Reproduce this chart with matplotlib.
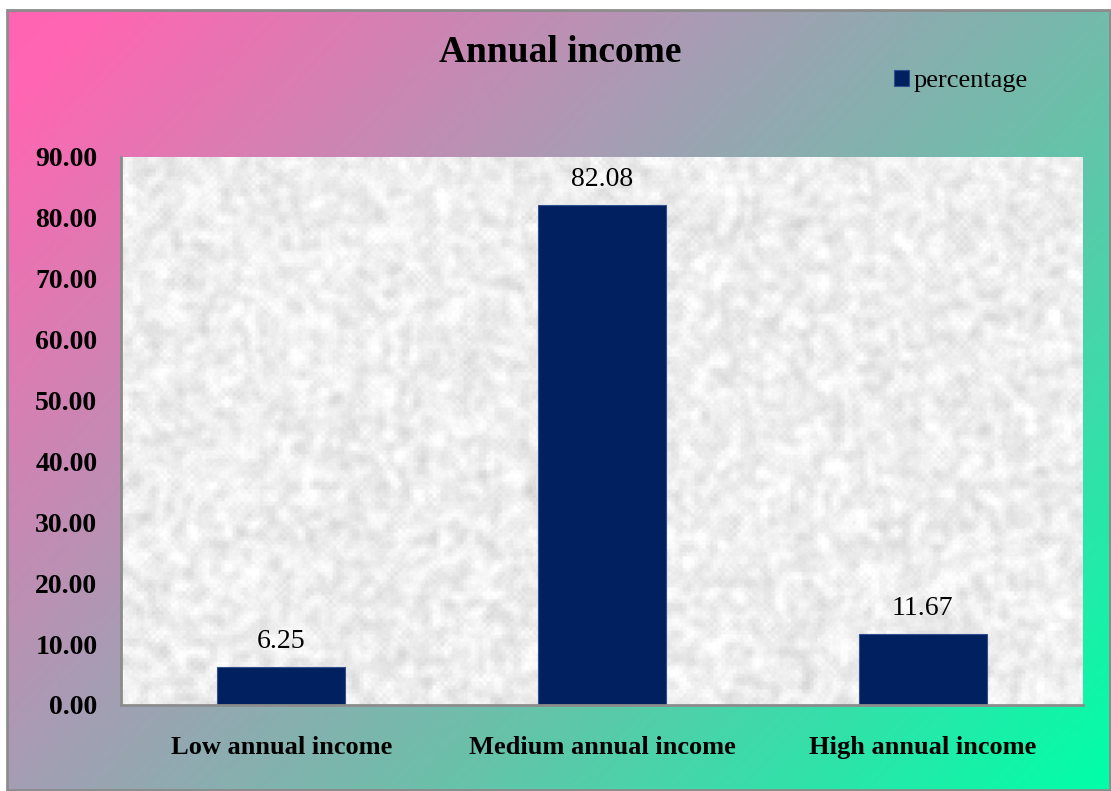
import numpy as np
import matplotlib.pyplot as plt
from matplotlib.colors import LinearSegmentedColormap
from matplotlib.patches import Rectangle

plt.rcParams['font.family'] = ['Liberation Serif', 'DejaVu Serif']

# data
categories = ["Low annual income", "Medium annual income", "High annual income"]
percentage = [6.25, 82.08, 11.67]
yticks = [0, 10, 20, 30, 40, 50, 60, 70, 80, 90]

W, H = 1111, 791
fig = plt.figure(figsize=(W / 100, H / 100), dpi=100, facecolor='white')

# chart area background: diagonal pink -> grey -> green gradient
bg = fig.add_axes([7 / W, 1 / H, 1103 / W, 780 / H], zorder=0)
gx, gy = np.meshgrid(np.linspace(0, 1, 400), np.linspace(0, 1, 300))
grad = 0.6 * gx + 0.4 * gy
bg_cmap = LinearSegmentedColormap.from_list(
    'chartbg', [(0.0, '#ff64b4'), (0.05, '#ff66b2'), (0.4, '#a59eb4'),
                (0.62, '#6ebeaa'), (1.0, '#00ffa8')])
bg.imshow(grad, cmap=bg_cmap, aspect='auto', extent=[0, 1, 0, 1],
          origin='upper', interpolation='bilinear')
bg.set_xlim(0, 1)
bg.set_ylim(0, 1)
bg.axis('off')
fig.patches.append(Rectangle((7 / W, 1 / H), 1103 / W, 780 / H, transform=fig.transFigure,
                             fill=False, edgecolor='#8c8c8c', linewidth=2, zorder=1))

ax = fig.add_axes([121 / W, 86 / H, 962 / W, 548 / H], zorder=2)

# grey paper texture for the plot area
rng = np.random.default_rng(7)
noise = rng.random((140, 250))
for _ in range(2):
    noise = (noise + np.roll(noise, 1, 0) + np.roll(noise, -1, 0)
             + np.roll(noise, 1, 1) + np.roll(noise, -1, 1)) / 5
noise = (noise - noise.mean()) / noise.std()
fine = rng.random((280, 500))
tex = 0.935 + 0.028 * np.kron(noise, np.ones((2, 2))) + 0.025 * (fine - 0.5)
tex = np.clip(tex, 0.75, 1.0)
ax.imshow(tex, cmap='gray', vmin=0, vmax=1, aspect='auto',
          extent=[-0.5, 2.5, 0, 90], interpolation='bilinear', zorder=0)

x = np.arange(len(categories))
bars = ax.bar(x, percentage, width=0.4, color='#002060', edgecolor='#2f4f8f',
              linewidth=0.8, label='percentage', zorder=2)
for xi, v in zip(x, percentage):
    ax.text(xi, v + 2.2, f"{v:.2f}", ha='center', va='bottom', fontsize=20, zorder=3)

ax.set_xlim(-0.5, 2.5)
ax.set_ylim(0, 90)
ax.set_yticks(yticks)
ax.set_yticklabels([f"{t:.2f}" for t in yticks], fontsize=20, fontweight='bold')
ax.set_xticks(x)
ax.set_xticklabels(categories, fontsize=19, fontweight='bold')
ax.tick_params(axis='both', length=0)
ax.tick_params(axis='y', pad=17)
ax.tick_params(axis='x', pad=22)
for side in ['top', 'right']:
    ax.spines[side].set_visible(False)
for side in ['left', 'bottom']:
    ax.spines[side].set_color('#8c8c8c')
    ax.spines[side].set_linewidth(2)

fig.text(560 / W, 1 - 53 / H, "Annual income", ha='center', va='center',
         fontsize=27, fontweight='bold')
fig.legend(handles=[bars], labels=['percentage'], loc='center left',
           bbox_to_anchor=(881 / W, 1 - 81 / H), frameon=False, fontsize=19,
           handlelength=0.55, handleheight=0.55, handletextpad=0.2, borderpad=0)

fig.savefig('out.png', dpi=100, facecolor='white')
